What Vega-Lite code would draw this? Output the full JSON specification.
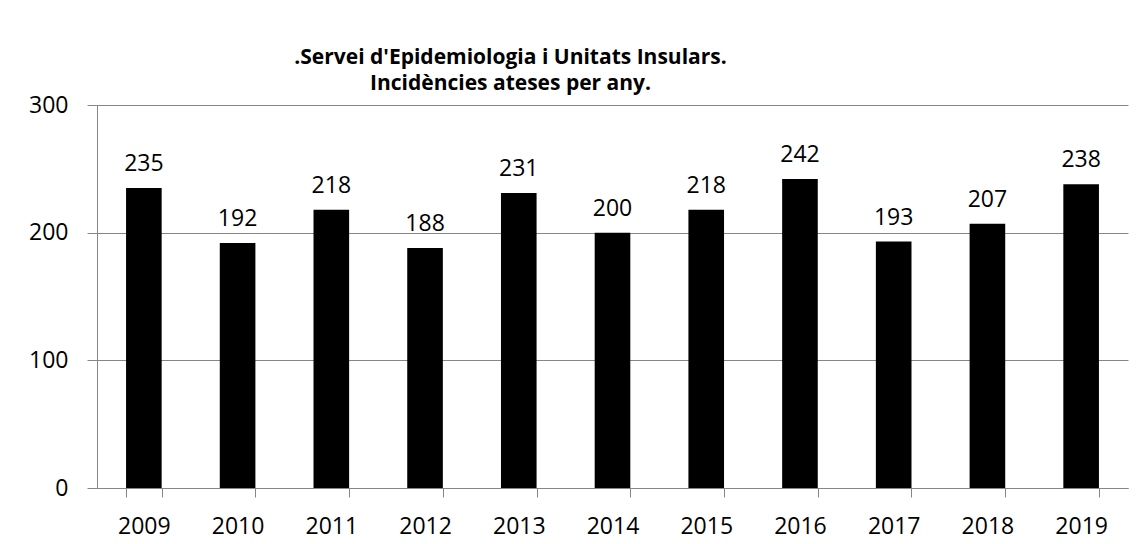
{
  "$schema": "https://vega.github.io/schema/vega-lite/v6.json",
  "width": 1031,
  "height": 383,
  "autosize": {"type": "none"},
  "padding": {"left": 97, "top": 105, "right": 16, "bottom": 56},
  "background": "white",
  "title": {
    "text": [".Servei d'Epidemiologia i Unitats Insulars.", "Incidències ateses per any."],
    "font": "Open Sans",
    "fontSize": 21,
    "fontWeight": "bold",
    "color": "black",
    "anchor": "middle",
    "frame": "group",
    "dx": -102,
    "offset": 0,
    "lineHeight": 26
  },
  "data": {
    "values": [
      {"year": "2009", "value": 235},
      {"year": "2010", "value": 192},
      {"year": "2011", "value": 218},
      {"year": "2012", "value": 188},
      {"year": "2013", "value": 231},
      {"year": "2014", "value": 200},
      {"year": "2015", "value": 218},
      {"year": "2016", "value": 242},
      {"year": "2017", "value": 193},
      {"year": "2018", "value": 207},
      {"year": "2019", "value": 238}
    ]
  },
  "encoding": {
    "x": {
      "field": "year",
      "type": "ordinal",
      "scale": {"paddingInner": 0.62, "paddingOuter": 0.31},
      "axis": {
        "title": null,
        "labelAngle": 0,
        "labelFont": "Open Sans",
        "labelFontSize": 23,
        "labelColor": "black",
        "labelPadding": 18,
        "domainColor": "#868686",
        "tickColor": "#868686",
        "tickSize": 9,
        "tickBand": "extent",
        "grid": false
      }
    },
    "y": {
      "field": "value",
      "type": "quantitative",
      "scale": {"domain": [0, 300], "nice": false},
      "axis": {
        "title": null,
        "values": [0, 100, 200, 300],
        "labelFont": "Open Sans",
        "labelFontSize": 23,
        "labelColor": "black",
        "labelPadding": 19,
        "domainColor": "#868686",
        "tickColor": "#868686",
        "tickSize": 10,
        "gridColor": "#868686",
        "gridWidth": 1
      }
    }
  },
  "layer": [
    {"mark": {"type": "bar", "color": "black"}},
    {
      "mark": {"type": "text", "font": "Open Sans", "fontSize": 23, "color": "black", "baseline": "alphabetic", "dy": -17},
      "encoding": {"text": {"field": "value", "type": "quantitative"}}
    }
  ],
  "config": {"view": {"stroke": null}}
}
